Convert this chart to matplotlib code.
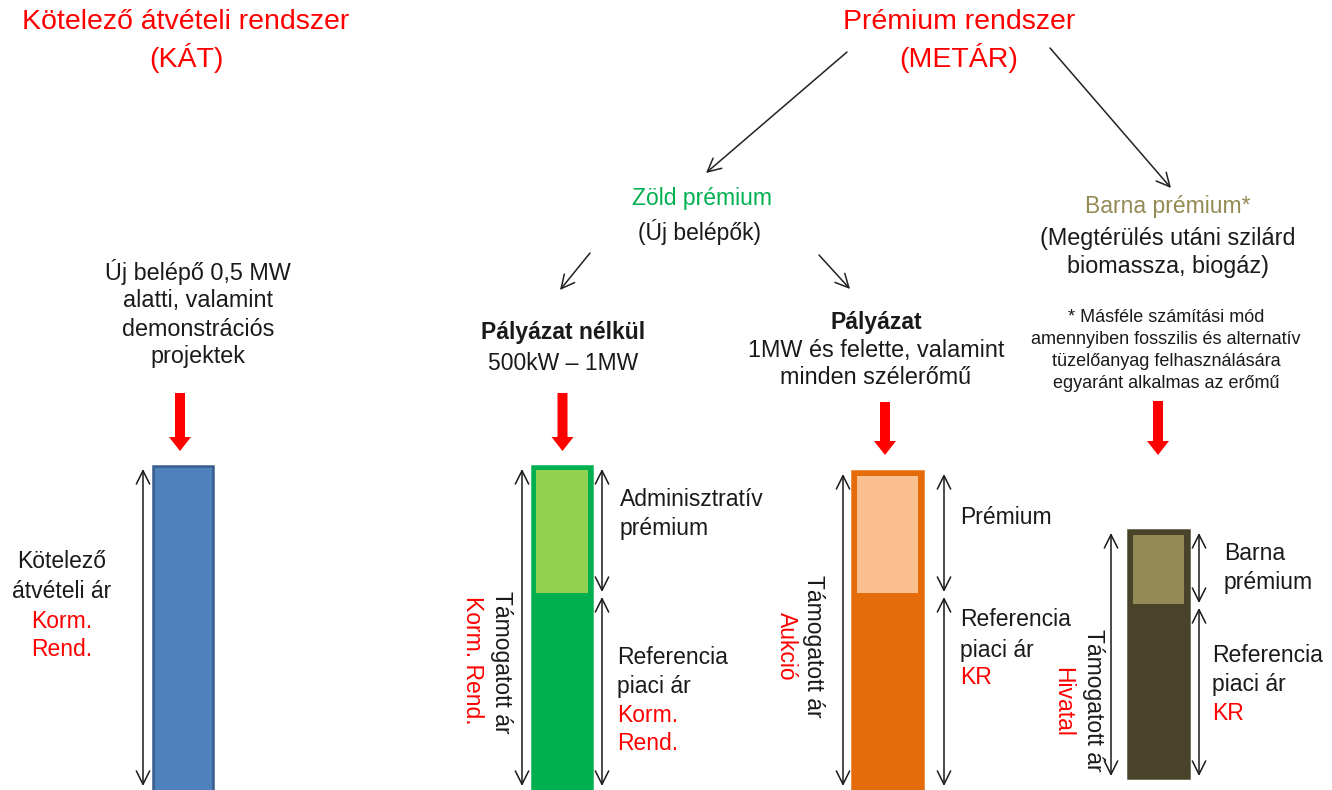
import matplotlib
matplotlib.use("Agg")
import matplotlib.pyplot as plt
from matplotlib.patches import FancyArrow

plt.rcParams['font.family'] = ['Liberation Sans', 'DejaVu Sans']

# ---- data (heights in arbitrary price units, measured upward) ----
schemes = ['KÁT', 'Pályázat nélkül', 'Pályázat', 'Barna prémium']
base_price = [334, 207, 207, 174]      # KÁT price / reference market price
premium = [0, 127, 122, 74]            # premium on top of the reference price

# ---- layout / styles ----
W, H = 1332, 790
fig = plt.figure(figsize=(W / 100, H / 100), dpi=100)
ax = fig.add_axes([0, 0, 1, 1])
ax.set_xlim(0, W)
ax.set_ylim(0, H)
ax.axis('off')

def Y(p):
    return H - p

bar_x = [183, 562, 887.5, 1158.5]
bar_w = [60, 60, 71, 61]
bar_base = [-10, -10, -10, 12]
dark = ['#4F81BD', '#00B050', '#E46C0A', '#494429']
edge = ['#385D8A', '#00B050', '#E46C0A', '#494429']
light = [None, '#92D050', '#FAC090', '#948A54']
inset = [0, 4, 5, 5]

for i in range(len(schemes)):
    total = base_price[i] + premium[i]
    ax.bar(bar_x[i], total, bottom=bar_base[i], width=bar_w[i], color=dark[i],
           edgecolor=edge[i], linewidth=1.8, zorder=2)
    if premium[i] > 0:
        ax.bar(bar_x[i], premium[i] - inset[i], bottom=bar_base[i] + base_price[i],
               width=bar_w[i] - 2 * inset[i], color=light[i], linewidth=0, zorder=3)

# double-headed dimension arrows
def dbl(x, y0, y1):
    ax.annotate('', xy=(x, y0), xytext=(x, y1), annotation_clip=False,
                arrowprops=dict(arrowstyle='<->', lw=1.1, color='#1a1a1a',
                                mutation_scale=24, shrinkA=0, shrinkB=0), zorder=4)

left_ax = [143, 522, 843, 1111]
right_ax = [None, 602, 944, 1199]
for i in range(len(schemes)):
    top = bar_base[i] + base_price[i] + premium[i]
    bottom = bar_base[i] + 2 if bar_base[i] > 0 else 4
    dbl(left_ax[i], bottom, top - 3)
    if right_ax[i] is not None:
        mid = bar_base[i] + base_price[i]
        dbl(right_ax[i], mid + 1, top - 3)
        dbl(right_ax[i], bottom, mid - 4)

# red down arrows
for x, y0, y1 in [(180, 393, 451), (562.5, 393, 451), (885, 402, 455), (1158, 401, 455)]:
    ax.add_patch(FancyArrow(x, Y(y0), 0, -(y1 - y0), width=10, head_width=22,
                            head_length=14, length_includes_head=True,
                            color='#FF0000', linewidth=0, zorder=5))

# black diagonal arrows
for (x0, y0), (x1, y1) in [((847, 52), (706, 173)), ((1050, 48), (1171, 188)),
                           ((590, 253), (560, 290)), ((819, 255), (850, 289))]:
    ax.annotate('', xy=(x1, Y(y1)), xytext=(x0, Y(y0)), annotation_clip=False,
                arrowprops=dict(arrowstyle='->', lw=1.1, color='#222222',
                                mutation_scale=24, shrinkA=0, shrinkB=0))

RED = '#FF0000'
BLK = '#1a1a1a'

def txt(x, y, s, size=17, color=BLK, ha='center', weight='normal', rot=0):
    ax.text(x, Y(y), s, fontsize=size, color=color, ha=ha, va='center',
            fontweight=weight, rotation=rot)

# titles
txt(186, 22, 'Kötelező átvételi rendszer', 20.5, RED)
txt(186, 58, '(KÁT)', 20.5, RED)
txt(959, 22, 'Prémium rendszer', 20.5, RED)
txt(959, 58, '(METÁR)', 20.5, RED)

txt(702, 199, 'Zöld prémium', 16.5, '#00B050')
txt(700, 232, '(Új belépők)', 16.5)
txt(1168, 207, 'Barna prémium*', 16.5, '#948A54')
txt(1168, 239, '(Megtérülés utáni szilárd', 16.8)
txt(1168, 266, 'biomassza, biogáz)', 16.8)

for y, s in zip([272, 300, 329, 357], ['Új belépő 0,5 MW', 'alatti, valamint', 'demonstrációs', 'projektek']):
    txt(198, y, s, 16.8)

txt(563, 333, 'Pályázat nélkül', 16.5, weight='bold')
txt(563, 363, '500kW – 1MW', 16.5)
txt(876, 323, 'Pályázat', 16.5, weight='bold')
txt(876, 351, '1MW és felette, valamint', 16.8)
txt(876, 378, 'minden szélerőmű', 16.8)

for y, s in zip([318, 340, 362, 383], ['* Másféle számítási mód', 'amennyiben fosszilis és alternatív',
                                      'tüzelőanyag felhasználására', 'egyaránt alkalmas az erőmű']):
    txt(1166, y, s, 13)

# bar labels
txt(62, 561, 'Kötelező', 16.5)
txt(62, 591, 'átvételi ár', 16.5)
txt(62, 621, 'Korm.', 16.5, RED)
txt(62, 649, 'Rend.', 16.5, RED)

txt(620, 500, 'Adminisztratív', 16.5, ha='left')
txt(620, 528, 'prémium', 16.5, ha='left')
txt(617, 657, 'Referencia', 16.5, ha='left')
txt(617, 687, 'piaci ár', 16.5, ha='left')
txt(617, 715, 'Korm.', 16.5, RED, ha='left')
txt(617, 743, 'Rend.', 16.5, RED, ha='left')

txt(960, 517, 'Prémium', 16.5, ha='left')
txt(960, 620, 'Referencia', 16.5, ha='left')
txt(960, 650, 'piaci ár', 16.5, ha='left')
txt(960, 678, 'KR', 16.5, RED, ha='left')

txt(1224, 554, 'Barna', 16.5, ha='left')
txt(1224, 583, 'prémium', 16.5, ha='left')
txt(1212, 655, 'Referencia', 16.5, ha='left')
txt(1212, 684, 'piaci ár', 16.5, ha='left')
txt(1212, 713, 'KR', 16.5, RED, ha='left')

# rotated labels
txt(502, 662, 'Támogatott ár', 16.5, rot=270)
txt(472, 660, 'Korm. Rend.', 16.5, RED, rot=270)
txt(814, 646, 'Támogatott ár', 16.5, rot=270)
txt(786, 646, 'Aukció', 16.5, RED, rot=270)
txt(1093, 700, 'Támogatott ár', 16.5, rot=270)
txt(1063, 702, 'Hivatal', 16.5, RED, rot=270)

fig.savefig('out.png', dpi=100)
